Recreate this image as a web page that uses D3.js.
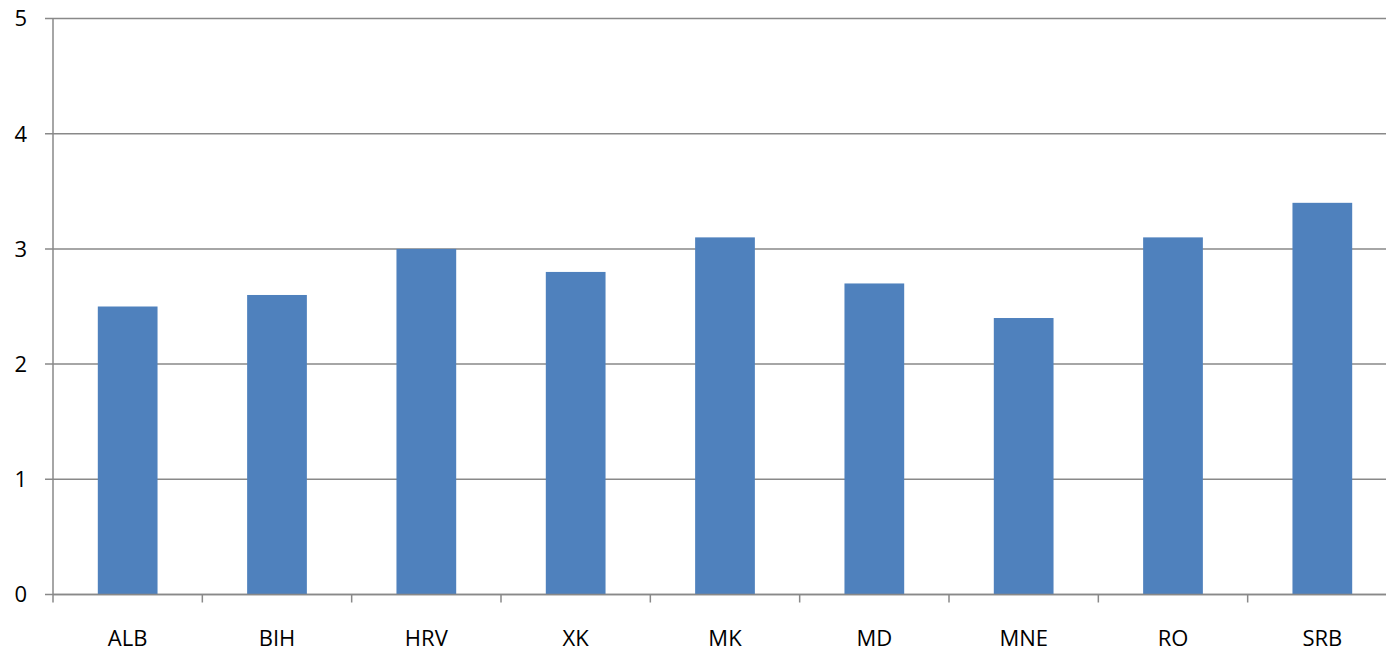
<!DOCTYPE html>
<html>
<head>
<meta charset="utf-8">
<script src="https://cdn.jsdelivr.net/npm/d3@7"></script>
<style>
  body { margin: 0; background: #fff; overflow: hidden; }
  text { font-family: "Open Sans", sans-serif; fill: #000; }
</style>
</head>
<body>
<div id="chart"></div>
<script>
// chart data
var countries = ["ALB", "BIH", "HRV", "XK", "MK", "MD", "MNE", "RO", "SRB"];
var values = [2.5, 2.6, 3.0, 2.8, 3.1, 2.7, 2.4, 3.1, 3.4];
var yTicks = [0, 1, 2, 3, 4, 5];

var svgWidth = 1386;
var svgHeight = 651;

var margin = { top: 18.5, right: -11, bottom: 56.5, left: 53 };
var width = svgWidth - margin.left - margin.right;
var height = svgHeight - margin.top - margin.bottom;

var svg = d3.select("#chart")
  .append("svg")
  .attr("width", svgWidth)
  .attr("height", svgHeight);

var chartGroup = svg.append("g")
  .attr("transform", `translate(${margin.left}, ${margin.top})`);

// scales
var xScale = d3.scaleBand()
  .domain(countries)
  .range([0, width]);

var yScale = d3.scaleLinear()
  .domain([0, 5])
  .range([height, 0]);

var gridColor = "#898989";

// gridlines
chartGroup.selectAll(".grid")
  .data(yTicks)
  .enter()
  .append("line")
  .attr("x1", -8)
  .attr("x2", width)
  .attr("y1", d => yScale(d))
  .attr("y2", d => yScale(d))
  .attr("stroke", gridColor)
  .attr("stroke-width", 1.5);

// bars (gap width ~150%)
var barW = xScale.bandwidth() / 2.5;
chartGroup.selectAll("rect")
  .data(countries)
  .enter()
  .append("rect")
  .attr("x", d => xScale(d) + (xScale.bandwidth() - barW) / 2)
  .attr("y", (d, i) => yScale(values[i]))
  .attr("width", barW)
  .attr("height", (d, i) => height - yScale(values[i]))
  .attr("fill", "#4F81BD");

// y axis line
chartGroup.append("line")
  .attr("x1", 0).attr("x2", 0)
  .attr("y1", 0).attr("y2", height)
  .attr("stroke", gridColor)
  .attr("stroke-width", 1.5);

// x axis line + ticks at band edges
chartGroup.append("line")
  .attr("x1", 0).attr("x2", width)
  .attr("y1", height).attr("y2", height)
  .attr("stroke", gridColor)
  .attr("stroke-width", 1.5);

chartGroup.selectAll(".xtick")
  .data(countries)
  .enter()
  .append("line")
  .attr("x1", d => xScale(d))
  .attr("x2", d => xScale(d))
  .attr("y1", height)
  .attr("y2", height + 8)
  .attr("stroke", gridColor)
  .attr("stroke-width", 1.5);

// y tick labels
chartGroup.selectAll(".ylabel")
  .data(yTicks)
  .enter()
  .append("text")
  .attr("x", -26)
  .attr("y", d => yScale(d))
  .attr("dy", "0.36em")
  .attr("text-anchor", "end")
  .style("font-size", "22px")
  .text(d => d);

// x category labels
chartGroup.selectAll(".xlabel")
  .data(countries)
  .enter()
  .append("text")
  .attr("x", d => xScale(d) + xScale.bandwidth() / 2)
  .attr("y", height + 51)
  .attr("text-anchor", "middle")
  .style("font-size", "22px")
  .text(d => d);
</script>
</body>
</html>
